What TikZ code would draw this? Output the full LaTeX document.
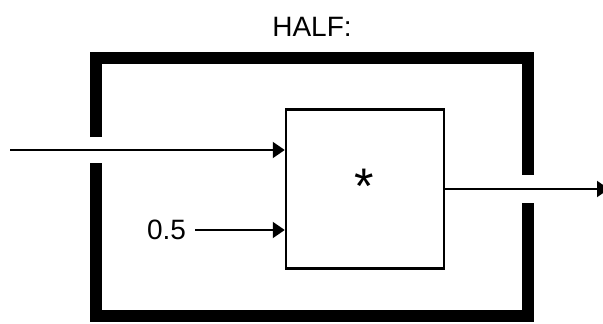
\documentclass[tikz,border=0pt]{standalone}
\usepackage{fontspec}
\setmainfont{Liberation Sans}
\usetikzlibrary{arrows.meta, positioning, calc}

\begin{document}
\begin{tikzpicture}[x=1pt, y=-1pt,
    frame/.style={line width=12pt, line cap=butt, line join=miter},
    wire/.style={line width=2pt, -{Triangle[length=12pt, width=16pt]}},
    opbox/.style={draw, line width=2.5pt, minimum width=158pt, minimum height=159pt, inner sep=0pt}]
\useasboundingbox (0,0) rectangle (603,324);

% Title
\node[font=\fontsize{28}{34}\selectfont] (title) at (312,27) {HALF:};

% Outer frame with two gaps
\coordinate (gapLtop) at (96,137);
\coordinate (gapLbot) at (96,163);
\coordinate (gapRtop) at (528,175);
\coordinate (gapRbot) at (528,203);
\draw[frame] (gapLtop) -- (96,58) -- (528,58) -- (gapRtop);
\draw[frame] (gapRbot) -- (528,316) -- (96,316) -- (gapLbot);

% Multiplier block
\node[opbox] (mul) at (365,189) {};
\node[font=\fontsize{50}{60}\selectfont, anchor=center] (star) at (364,186) {*};

% Inputs and output
\coordinate (in) at (10,150);
\node[font=\fontsize{28}{34}\selectfont, anchor=east, inner xsep=0pt, outer xsep=9pt] (half) at (195,230) {0.5};
\coordinate (out) at (609,189);
\draw[wire] (in) -- (in -| mul.west);
\draw[wire] (half.east) -- (half.east -| mul.west);
\draw[wire] (mul.east) -- (out);

\end{tikzpicture}
\end{document}
